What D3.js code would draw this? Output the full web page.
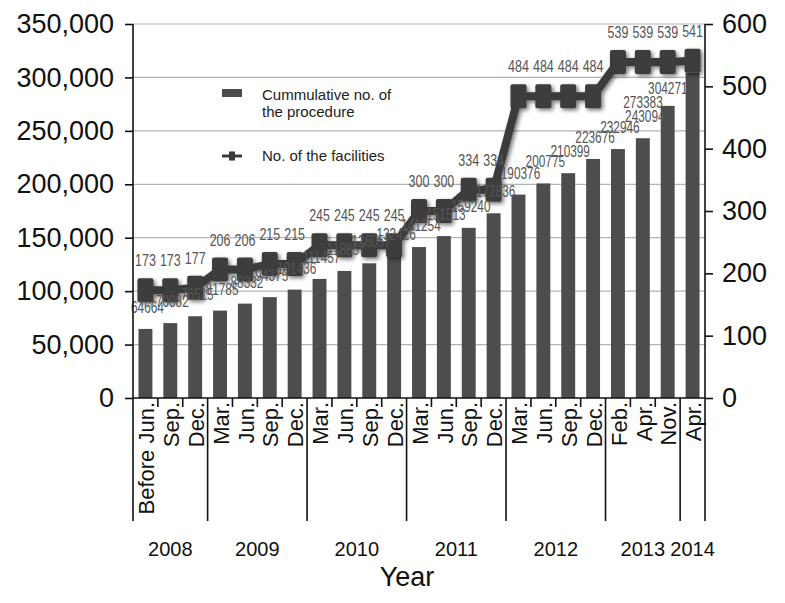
<!DOCTYPE html>
<html><head><meta charset="utf-8">
<script src="https://cdn.jsdelivr.net/npm/d3@7"></script>
<style>body{margin:0;background:#fff}svg{display:block}</style>
</head><body>
<svg id="c" width="785" height="603"></svg>
<script>
const months = ["Before Jun.","Sep.","Dec.","Mar.","Jun.","Sep.","Dec.","Mar.","Jun.","Sep.","Dec.","Mar.","Jun.","Sep.","Dec.","Mar.","Jun.","Sep.","Dec.","Feb.","Apr.","Nov.","Apr."];
const years = ["2008","2008","2008","2009","2009","2009","2009","2010","2010","2010","2010","2011","2011","2011","2011","2012","2012","2012","2012","2013","2013","2013","2014"];
const procedures = [64664,70082,76515,81785,88332,94375,101436,111457,118857,126057,132426,141254,151513,159240,172836,190376,200775,210399,223676,232946,243094,273383,304271];
const facilities = [173,173,177,206,206,215,215,245,245,245,245,300,300,334,334,484,484,484,484,539,539,539,541];
const leftTicks = [0,50000,100000,150000,200000,250000,300000,350000];
const rightTicks = [0,100,200,300,400,500,600];
const legendLabels = ["Cummulative no. of","the procedure","No. of the facilities"];
const xTitle = "Year";

const svg = d3.select("#c");
const L = 133, R = 705, T = 24, B = 398;
const keys = months.map((m,i)=>i);
const x = d3.scaleBand().domain(keys).range([L,R]).paddingInner(0.44).paddingOuter(0.22);
const yL = d3.scaleLinear().domain([0,350000]).range([B,T]);
const yR = d3.scaleLinear().domain([0,600]).range([B,T]);
const cx = i => x(i) + x.bandwidth()/2;
const band = (R-L)/months.length;
const narrow = "'Liberation Sans Narrow','Liberation Sans',Arial,sans-serif";

const defs = svg.append("defs");
const f = defs.append("filter").attr("id","sh").attr("x","-50%").attr("y","-50%").attr("width","200%").attr("height","200%");
f.append("feDropShadow").attr("dx",2).attr("dy",2).attr("stdDeviation",2.2).attr("flood-color","#000").attr("flood-opacity",0.55);

// gridlines
svg.append("g").selectAll("line").data(leftTicks.slice(1)).join("line")
  .attr("x1",L).attr("x2",R).attr("y1",d=>yL(d)).attr("y2",d=>yL(d))
  .attr("stroke","#b4b4b4").attr("stroke-width",1.2);

// bars
svg.append("g").selectAll("rect").data(procedures).join("rect")
  .attr("x",(d,i)=>x(i)).attr("width",x.bandwidth())
  .attr("y",d=>yL(d)).attr("height",d=>B-yL(d)).attr("fill","#4d4d4d");

// line
const line = d3.line().x((d,i)=>cx(i)).y(d=>yR(d));
const lg = svg.append("g").attr("filter","url(#sh)");
lg.append("path").datum(facilities).attr("d",line).attr("fill","none").attr("stroke","#3a3a3a").attr("stroke-width",8);
lg.selectAll("rect").data(facilities).join("rect")
  .attr("x",(d,i)=>cx(i)-8).attr("y",d=>yR(d)-12).attr("width",16).attr("height",24).attr("rx",2)
  .attr("fill","#3d3d3d");

// bar labels (labels of the tallest bars sit to the left, clear of the line)
const tall = d => yL(d) < 120;
svg.append("g").selectAll("text").data(procedures).join("text")
  .attr("transform",(d,i)=>{
    const top = yL(d);
    const p = tall(d) ? [x(i)+2, Math.max(top+2, yR(facilities[i])+33)] : [cx(i)+2, top-16];
    return `translate(${p[0]},${p[1]}) scale(0.74,1)`;})
  .attr("text-anchor",d=>tall(d)?"end":"middle").attr("font-family",narrow)
  .attr("font-size",16).attr("fill","#555").text(d=>d);

// line labels
svg.append("g").selectAll("text").data(facilities).join("text")
  .attr("transform",(d,i)=>`translate(${cx(i)},${yR(d)-24}) scale(0.78,1)`)
  .attr("text-anchor","middle").attr("font-family",narrow)
  .attr("font-size",16).attr("fill","#555").text(d=>d);

// axes
const axL = svg.append("g").attr("transform",`translate(${L},0)`)
  .call(d3.axisLeft(yL).tickValues(leftTicks).tickFormat(d3.format(",")).tickSize(8).tickPadding(11));
const axR = svg.append("g").attr("transform",`translate(${R},0)`)
  .call(d3.axisRight(yR).tickValues(rightTicks).tickSize(8).tickPadding(9));
[axL,axR].forEach(a=>{
  a.select(".domain").attr("stroke","#111").attr("stroke-width",1.6).attr("d",`M0,${T}V${B}`);
  a.selectAll(".tick line").attr("stroke","#111").attr("stroke-width",1.6);
  a.selectAll("text").attr("font-family","'Liberation Sans',Arial,sans-serif").attr("font-size",27).attr("fill","#111");
});

// x axis baseline
svg.append("line").attr("x1",L).attr("x2",R).attr("y1",B).attr("y2",B).attr("stroke","#111").attr("stroke-width",1.6);

// category separators
const seps = d3.range(0,months.length+1);
svg.append("g").selectAll("line").data(seps).join("line")
  .attr("x1",i=>L+i*band).attr("x2",i=>L+i*band).attr("y1",B)
  .attr("y2",i=> (i===0||i===months.length||years[i]!==years[i-1]) ? 521 : 407)
  .attr("stroke","#111").attr("stroke-width",1.6);

// category labels
svg.append("g").selectAll("text").data(months).join("text")
  .attr("transform",(d,i)=>`translate(${cx(i)+1},402) rotate(-90)`)
  .attr("text-anchor","end").attr("dy","0.35em")
  .attr("font-family","'Liberation Sans',Arial,sans-serif").attr("font-size",22).attr("fill","#111").text(d=>d);

// year labels
const yearGroups = d3.groups(keys, i=>years[i]);
svg.append("g").selectAll("text").data(yearGroups).join("text")
  .attr("x",g=>(L+g[1][0]*band + L+(g[1][g[1].length-1]+1)*band)/2)
  .attr("y",556).attr("text-anchor","middle")
  .attr("font-family","'Liberation Sans',Arial,sans-serif").attr("font-size",20).attr("fill","#111").text(g=>g[0]);

svg.append("text").attr("x",407).attr("y",586).attr("text-anchor","middle")
  .attr("font-family","'Liberation Sans',Arial,sans-serif").attr("font-size",27).attr("fill","#111").text(xTitle);

// legend
const leg = svg.append("g").attr("font-family","'Liberation Sans',Arial,sans-serif").attr("font-size",15).attr("fill","#222");
leg.append("rect").attr("x",222).attr("y",89).attr("width",20).attr("height",8).attr("fill","#4d4d4d");
leg.append("text").attr("x",262).attr("y",100).text(legendLabels[0]);
leg.append("text").attr("x",262).attr("y",117).text(legendLabels[1]);
leg.append("line").attr("x1",222).attr("x2",242).attr("y1",156).attr("y2",156).attr("stroke","#3a3a3a").attr("stroke-width",3);
leg.append("rect").attr("x",229).attr("y",151.5).attr("width",6).attr("height",9).attr("fill","#3a3a3a");
leg.append("text").attr("x",262).attr("y",161).text(legendLabels[2]);
</script>
</body></html>
